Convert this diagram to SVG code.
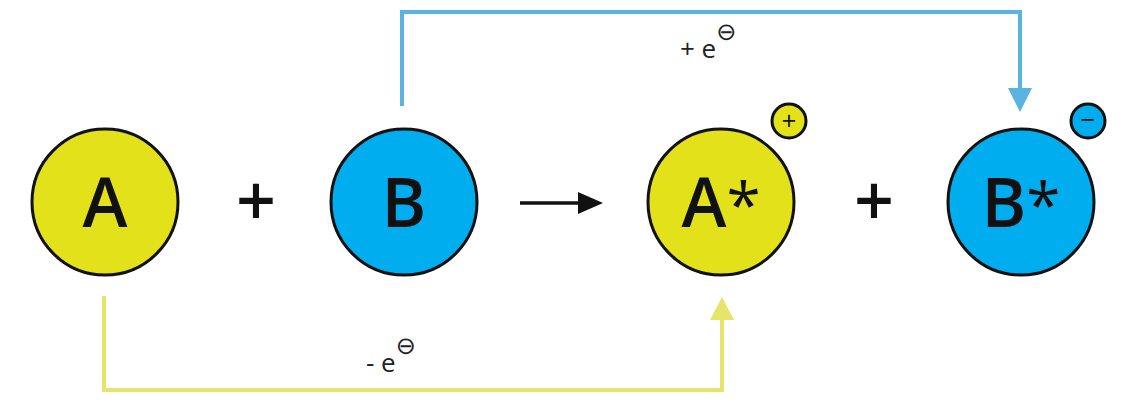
<svg xmlns="http://www.w3.org/2000/svg" width="1130" height="406" viewBox="0 0 1130 406">
<defs>
<style>
.y{fill:#e2e11a;stroke:#111;stroke-width:3}
.b{fill:#00aeef;stroke:#111;stroke-width:3}
.big{font-family:"Open Sans","Liberation Sans",sans-serif;font-weight:600;font-size:68px;fill:#111;text-anchor:middle}
.ast{font-family:"Open Sans","Liberation Sans",sans-serif;font-weight:400;font-size:62px}
.op{font-family:"Open Sans","Liberation Sans",sans-serif;font-weight:600;font-size:70px;fill:#111;text-anchor:middle}
.sm{font-family:"Open Sans","Liberation Sans",sans-serif;font-weight:400;font-size:26px;fill:#111;text-anchor:middle}
.lab{font-family:"Open Sans","Liberation Sans",sans-serif;font-size:26px;fill:#222}
.sup{font-family:"DejaVu Sans",sans-serif;font-size:24px;fill:#222}
</style>
</defs>
<g id="connectors">
<path d="M402,106 V12 H1020 V90" fill="none" stroke="#5ab4e2" stroke-width="4"/>
<path d="M1008,88 L1032,88 L1020,112 z" fill="#5ab4e2"/>
<path d="M104,296 V390 H722 V318" fill="none" stroke="#e6e46a" stroke-width="4"/>
<path d="M710,320 L734,320 L722,297 z" fill="#e6e46a"/>
<line x1="520" y1="203" x2="580" y2="203" stroke="#111" stroke-width="3.5"/>
<path d="M578,192 L603,203 L578,214 z" fill="#111"/>
<text class="lab" x="680" y="58">+ e<tspan class="sup" dy="-18">⊖</tspan></text>
<text class="lab" x="366" y="372">- e<tspan class="sup" dy="-18">⊖</tspan></text>
</g>
<g id="nodeA"><circle class="y" cx="105" cy="202" r="73"/><text class="big" x="105" y="227">A</text></g>
<g id="plus1"><text class="op" x="256" y="226">+</text></g>
<g id="nodeB"><circle class="b" cx="404" cy="202" r="73"/><text class="big" x="404" y="227">B</text></g>
<g id="nodeAstar"><circle class="y" cx="721" cy="202" r="73"/><text class="big" x="721" y="227">A<tspan class="ast">*</tspan></text>
<circle class="y" cx="789" cy="121" r="17" stroke-width="2.5"/><text class="sm" x="789" y="130">+</text></g>
<g id="plus2"><text class="op" x="874" y="226">+</text></g>
<g id="nodeBstar"><circle class="b" cx="1021" cy="202" r="73"/><text class="big" x="1021" y="227">B<tspan class="ast">*</tspan></text>
<circle class="b" cx="1088" cy="121" r="17" stroke-width="2.5"/><text class="sm" x="1088" y="129">−</text></g>
</svg>
